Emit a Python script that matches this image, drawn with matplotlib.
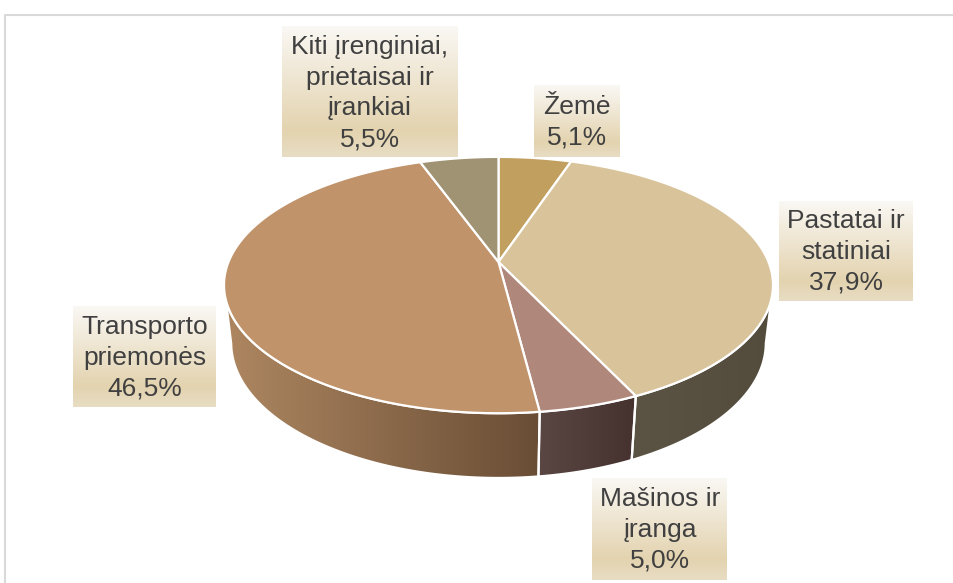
import numpy as np
import matplotlib.pyplot as plt
from matplotlib.patches import Polygon, Rectangle
from matplotlib.colors import to_rgb

# ---- data ----
categories = ["Žemė", "Pastatai ir\nstatiniai", "Mašinos ir\nįranga",
              "Transporto\npriemonės", "Kiti įrenginiai,\nprietaisai ir\nįrankiai"]
values = [5.1, 37.9, 5.0, 46.5, 5.5]
value_labels = ["5,1%", "37,9%", "5,0%", "46,5%", "5,5%"]
top_colors = ["#C19F5F", "#D8C39A", "#B0877B", "#C0936A", "#A09373"]
side_left = ["#8A6E3D", "#5B5444", "#5A4642", "#AE8761", "#6E6450"]
side_right = ["#8A6E3D", "#534C3D", "#45322F", "#694D35", "#6E6450"]
# label box centres (pixel coords) and sizes
box_centers = [(577, 121), (846, 251), (660, 529), (145, 357), (370, 92)]
box_sizes = [(86, 72), (134, 100), (135, 102), (143, 101), (176, 131)]

W, H = 954, 583
fig = plt.figure(figsize=(W / 100, H / 100), dpi=100)
ax = fig.add_axes([0, 0, 1, 1])
ax.set_xlim(0, W)
ax.set_ylim(H, 0)
ax.axis("off")

# frame
ax.plot([5, 5, W], [H, 15, 15], color="#D9D9D9", lw=1.5, zorder=0)

# projection
cx, cy = 498.5, 262.0
Rx, Ry, D = 270.0, 124.0, 58.7
k, m = 0.18, 0.026


def proj(phi, r=1.0, z=0.0):
    u = r * np.sin(phi)
    v = -r * np.cos(phi)
    w = 1 - k * v + m * z
    return cx + Rx * u / w, cy + (Ry * v + D * z) / w


frac = np.array(values) / np.sum(values)
edges = np.concatenate([[0], np.cumsum(frac)]) * 2 * np.pi
vis_lo = np.pi / 2 + np.arcsin(k)
vis_hi = 3 * np.pi / 2 - np.arcsin(k)


def hgrad(x0, x1, y0, y1, c0, c1, clip, zorder):
    n = 256
    c0, c1 = np.array(to_rgb(c0)), np.array(to_rgb(c1))
    t = np.linspace(0, 1, n)[None, :, None]
    img = c0 + (c1 - c0) * t
    im = ax.imshow(img, extent=[x0, x1, y1, y0], aspect="auto",
                   zorder=zorder, interpolation="bilinear")
    im.set_clip_path(clip)


# walls
for i in range(len(values)):
    a0, a1 = max(edges[i], vis_lo), min(edges[i + 1], vis_hi)
    if a1 <= a0:
        continue
    ph = np.linspace(a0, a1, 120)
    tx, ty = proj(ph)
    bx, by = proj(ph[::-1], z=1.0)
    pts = np.column_stack([np.concatenate([tx, bx]), np.concatenate([ty, by])])
    poly = Polygon(pts, closed=True, facecolor="none", edgecolor="none", zorder=2)
    ax.add_patch(poly)
    hgrad(pts[:, 0].min(), pts[:, 0].max(), pts[:, 1].min(), pts[:, 1].max(),
          side_left[i], side_right[i], poly, 2)
    ax.add_patch(Polygon(pts, closed=True, facecolor="none", edgecolor="white",
                         lw=1.6, zorder=3))

# tops
for i in range(len(values)):
    ph = np.linspace(edges[i], edges[i + 1], 200)
    ax_, ay_ = proj(ph)
    xs = np.concatenate([[cx], ax_])
    ys = np.concatenate([[cy], ay_])
    ax.add_patch(Polygon(np.column_stack([xs, ys]), closed=True,
                         facecolor=top_colors[i], edgecolor="white", lw=1.6,
                         zorder=4))

# label boxes with vertical gradient
stops_t = [0.0, 0.8, 1.0]
stops_c = [np.array(to_rgb(c)) for c in ["#FAF8F4", "#E3D3AF", "#E8DDC4"]]
tt = np.linspace(0, 1, 200)
grad = np.array([np.array([np.interp(t, stops_t, [c[j] for c in stops_c]) for j in range(3)]) for t in tt])
grad_img = grad[:, None, :]

for i in range(len(values)):
    (bxc, byc), (bw, bh) = box_centers[i], box_sizes[i]
    x0, y0 = bxc - bw / 2, byc - bh / 2
    ax.imshow(grad_img, extent=[x0, x0 + bw, y0 + bh, y0], aspect="auto",
              zorder=5, interpolation="bilinear")
    ax.text(bxc, byc + 1, categories[i] + "\n" + value_labels[i], ha="center",
            va="center", fontsize=19, color="#404040", family="Liberation Sans",
            linespacing=1.36, zorder=6)

ax.set_xlim(0, W)
ax.set_ylim(H, 0)
fig.savefig("out.png", dpi=100)
